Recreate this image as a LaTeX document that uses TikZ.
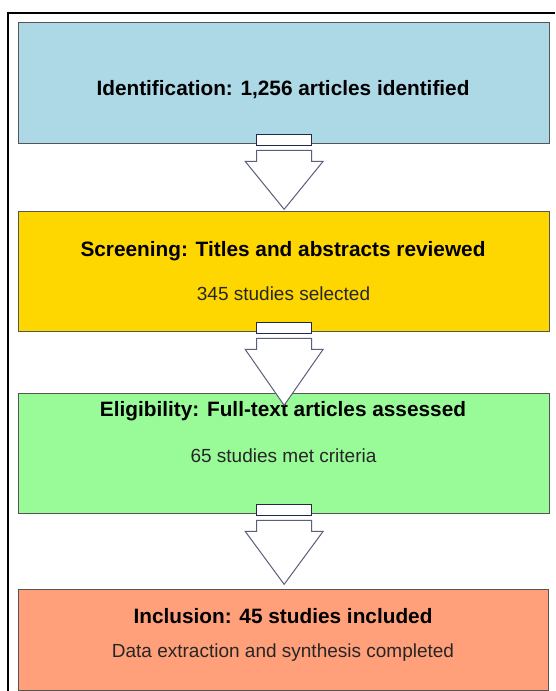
\documentclass[tikz,border=0pt]{standalone}
\usepackage{fontspec}
\setmainfont{Liberation Sans}
\usetikzlibrary{calc}
\definecolor{idblue}{HTML}{ADD8E6}
\definecolor{scrgold}{HTML}{FFD700}
\definecolor{eligreen}{HTML}{98FB98}
\definecolor{incsalmon}{HTML}{FFA07A}
\definecolor{boxedge}{HTML}{555555}
\definecolor{arrowedge}{HTML}{5A5F7A}
\definecolor{tabedge}{HTML}{1F2A4A}
\tikzset{
  stagebox/.style={draw=boxedge, line width=1.3pt, minimum width=531pt, inner sep=0pt, anchor=north west},
  headtext/.style={font=\fontsize{20.8}{24}\selectfont\bfseries, inner sep=0pt},
  subtext/.style={font=\fontsize{19}{22}\selectfont, inner sep=0pt, text=black!85},
  tabbox/.style={draw=tabedge, fill=white, line width=1pt},
  blockarrow/.style={draw=arrowedge, fill=white, line width=1pt, line join=miter},
}
% #1 = node above, #2 = depth of the arrow tip below that node
\newcommand{\stagearrow}[2]{%
  \draw[tabbox] ($(#1.south)+(-27.5,-10)$) rectangle ($(#1.south)+(27.5,1)$);
  \draw[blockarrow] ($(#1.south)+(-27.5,6)$) -- ($(#1.south)+(27.5,6)$)
    -- ($(#1.south)+(27.5,17)$) -- ($(#1.south)+(39,17)$)
    -- ($(#1.south)+(0,#2)$) -- ($(#1.south)+(-39,17)$)
    -- ($(#1.south)+(-27.5,17)$) -- cycle;
}
\begin{document}
\begin{tikzpicture}[x=1pt,y=-1pt]
\useasboundingbox (0,0) rectangle (555,691);
\fill[white] (0,0) rectangle (555,691);
% outer frame
\draw[line width=2pt] (8,691) -- (8,13) -- (555,13);

% stage boxes
\node[stagebox, fill=idblue, minimum height=121pt] (ident) at (18,22) {};
\node[stagebox, fill=scrgold, minimum height=120pt] (screen) at (18,211) {};
\node[stagebox, fill=eligreen, minimum height=120pt] (elig) at (18,393) {};
\node[stagebox, fill=incsalmon, minimum height=101pt, minimum width=530pt] (incl) at (18,589) {};

% stage labels
\node[headtext] (identhead) at (283,90) {Identification: 1,256 articles identified};
\node[headtext] (screenhead) at (283,251) {Screening: Titles and abstracts reviewed};
\node[subtext] (screensub) at (283.5,294) {345 studies selected};
\node[headtext] (eligbhead) at (283,411) {Eligibility: Full-text articles assessed};
\node[subtext] (eligsub) at (283.5,456) {65 studies met criteria};
\node[headtext] (inclhead) at (283,616) {Inclusion: 45 studies included};
\node[subtext] (inclsub) at (283,653) {Data extraction and synthesis completed};

% arrows between stages
\stagearrow{ident}{65}
\stagearrow{screen}{73}
\stagearrow{elig}{70}
\end{tikzpicture}
\end{document}
